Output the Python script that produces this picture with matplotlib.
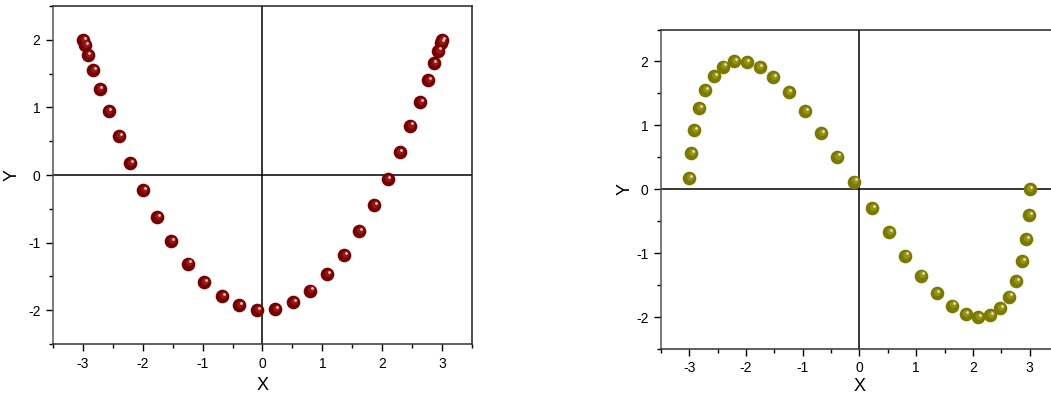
import matplotlib
matplotlib.use("Agg")
import matplotlib.pyplot as plt
import matplotlib.transforms as mtransforms
from matplotlib.ticker import MultipleLocator

plt.rcParams['font.family'] = ['Liberation Sans', 'DejaVu Sans']
plt.rcParams['axes.unicode_minus'] = False

# left panel points
x1 = [-3.0, -2.97, -2.92, -2.83, -2.72, -2.57, -2.40, -2.21, -2.00, -1.76, -1.52,
      -1.24, -0.97, -0.68, -0.39, -0.09, 0.21, 0.51, 0.80, 1.08, 1.36, 1.62,
      1.86, 2.09, 2.29, 2.47, 2.63, 2.76, 2.86, 2.93, 2.98, 3.0]
y1 = [2.0, 1.92, 1.77, 1.55, 1.27, 0.94, 0.57, 0.18, -0.22, -0.62, -0.98,
      -1.31, -1.58, -1.79, -1.93, -2.0, -1.98, -1.88, -1.71, -1.47, -1.18, -0.83,
      -0.45, -0.06, 0.34, 0.73, 1.08, 1.40, 1.65, 1.84, 1.96, 2.0]

# right panel points
x2 = [-3.0, -2.97, -2.91, -2.83, -2.72, -2.57, -2.40, -2.21, -1.99, -1.76, -1.52,
      -1.25, -0.96, -0.68, -0.39, -0.09, 0.22, 0.52, 0.81, 1.09, 1.36, 1.63,
      1.87, 2.09, 2.30, 2.48, 2.64, 2.76, 2.87, 2.94, 2.99, 3.0]
y2 = [0.17, 0.56, 0.93, 1.27, 1.55, 1.77, 1.92, 2.0, 1.99, 1.91, 1.75,
      1.52, 1.22, 0.88, 0.51, 0.12, -0.29, -0.67, -1.04, -1.35, -1.62, -1.82,
      -1.95, -2.0, -1.97, -1.86, -1.68, -1.44, -1.13, -0.78, -0.40, 0.0]

fig = plt.figure(figsize=(10.51, 3.96), dpi=100)
ax1 = fig.add_axes([0.0504, 0.1313, 0.3987, 0.8535])
ax2 = fig.add_axes([0.6289, 0.1187, 0.3777, 0.8068])


def balls(ax, x, y, base, mid):
    ax.plot(x, y, 'o', ms=8.8, color=base, mec=base, zorder=3)
    tr = mtransforms.offset_copy(ax.transData, fig=fig, x=0.6, y=0.8, units='points')
    ax.plot(x, y, 'o', ms=5.0, color=mid, mec='none', alpha=0.8, transform=tr, zorder=4)
    tr2 = mtransforms.offset_copy(ax.transData, fig=fig, x=1.3, y=1.6, units='points')
    ax.plot(x, y, 'o', ms=2.0, color='#f4e8e8', mec='none', alpha=0.85, transform=tr2, zorder=5)


def style(ax, ylabelpad, xlabelpad):
    ax.set_xlim(-3.5, 3.5)
    ax.set_ylim(-2.5, 2.5)
    ax.axhline(0, color='black', lw=1.1, zorder=2)
    ax.axvline(0, color='black', lw=1.1, zorder=2)
    ax.xaxis.set_major_locator(MultipleLocator(1))
    ax.xaxis.set_minor_locator(MultipleLocator(0.5))
    ax.yaxis.set_major_locator(MultipleLocator(1))
    ax.yaxis.set_minor_locator(MultipleLocator(0.5))
    ax.tick_params(which='major', direction='out', length=5, width=1, labelsize=10, pad=4)
    ax.tick_params(which='minor', direction='out', length=3, width=1)
    for s in ax.spines.values():
        s.set_linewidth(1.1)
        s.set_color('#222222')
    ax.spines['left'].set_color('#555555')
    ax.spines['bottom'].set_color('#333333')
    ax.set_xlabel('X', fontsize=13, labelpad=xlabelpad)
    ax.set_ylabel('Y', fontsize=13, labelpad=ylabelpad)


balls(ax1, x1, y1, '#780000', '#9a2020')
style(ax1, 5, 5)

balls(ax2, x2, y2, '#7a7a00', '#9c9c18')
style(ax2, 2, 2)
ax2.spines['right'].set_visible(False)

fig.savefig('out.png', dpi=100)
